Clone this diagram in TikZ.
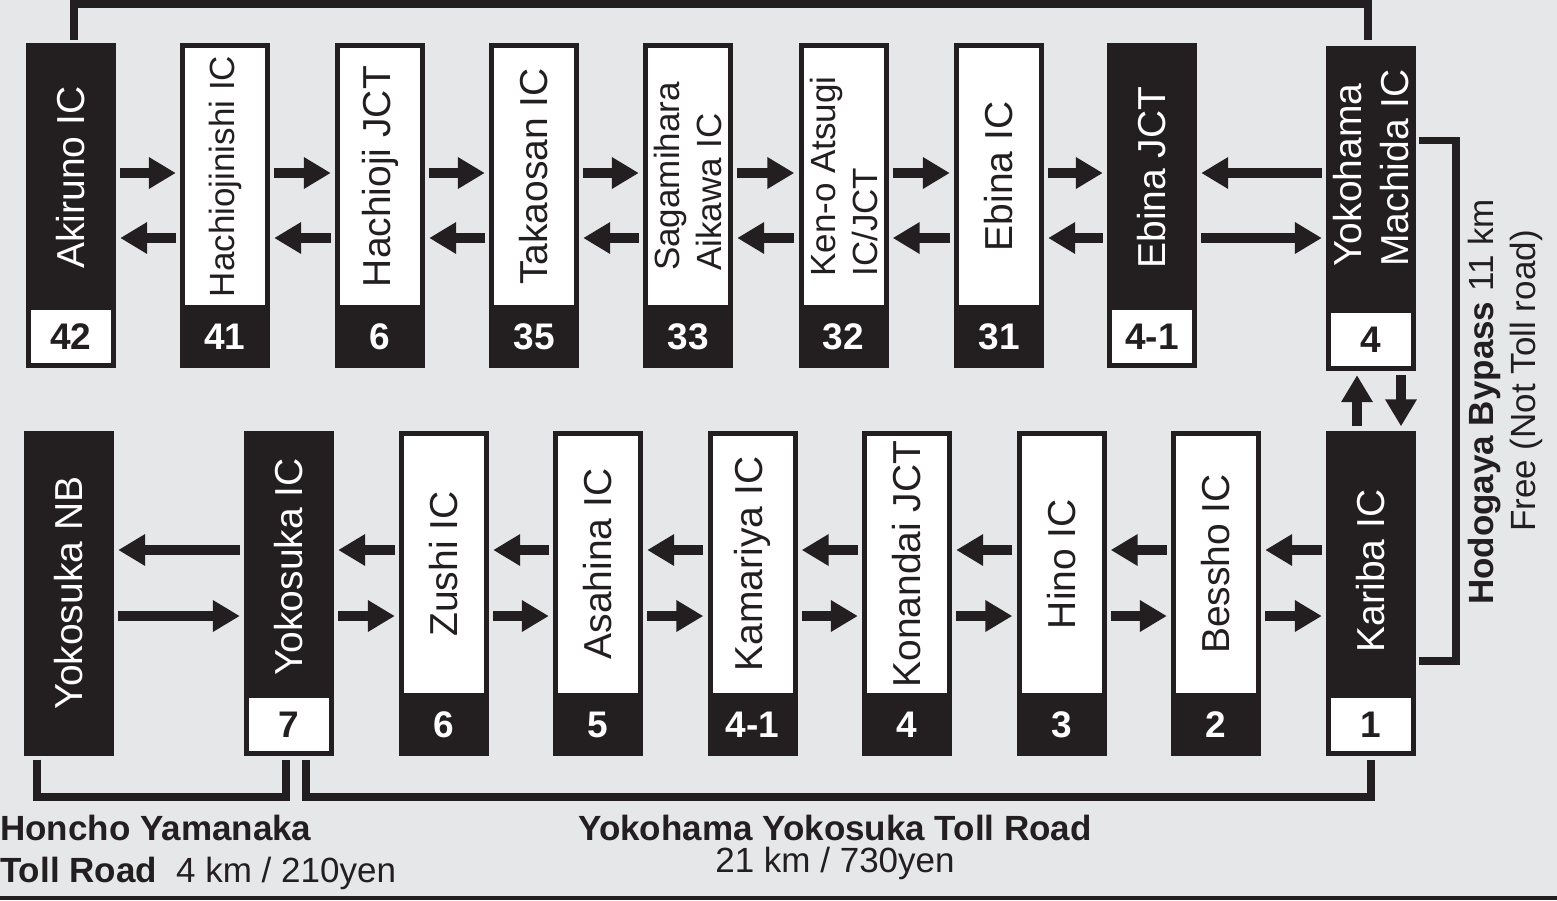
\documentclass[tikz,border=0pt]{standalone}
\usepackage{fontspec}
\setmainfont{Liberation Sans}
\usetikzlibrary{arrows.meta}
\definecolor{ink}{HTML}{231F20}
\definecolor{paper}{HTML}{E6E7E8}

\begin{document}
\begin{tikzpicture}[x=1pt,y=-1pt,
    icbox/.style={fill=ink,minimum width=90pt,minimum height=325pt,inner sep=0pt},
    panel/.style={fill=white,text=ink,rotate=90,minimum width=257pt,minimum height=80pt,inner sep=0pt,align=left,font=\fontsize{39}{47}\selectfont},
    darkname/.style={text=white,rotate=90,inner sep=0pt,align=left,font=\fontsize{39}{47}\selectfont},
    smalltext/.style={font=\fontsize{35}{42}\selectfont},
    numbox/.style={fill=white,text=ink,minimum width=80pt,minimum height=53pt,inner sep=0pt,font=\fontsize{37}{44}\selectfont\bfseries},
    numtext/.style={text=white,inner sep=0pt,font=\fontsize{37}{44}\selectfont\bfseries},
    caption/.style={text=ink,inner sep=0pt,font=\fontsize{35}{42}\selectfont},
    road/.style={draw=ink,line width=7.5pt},
    arr/.style={draw=ink,line width=10pt,-{Triangle[length=27pt,width=30pt]},shorten <=4pt,shorten >=4pt}]
  \fill[paper] (0,0) rectangle (1557,900);
  \fill[ink] (0,896) rectangle (1557,900);
  \path
    (71,205.5) node[icbox] (akiruno) {}
    (225,205.5) node[icbox] (hachiojinishi) {}
    (380,205.5) node[icbox] (hachioji) {}
    (534,205.5) node[icbox] (takaosan) {}
    (688,205.5) node[icbox] (sagamihara) {}
    (843.5,205.5) node[icbox] (kenoatsugi) {}
    (999,205.5) node[icbox] (ebina) {}
    (1152,205.5) node[icbox] (ebinajct) {}
    (1371,208.5) node[icbox] (machida) {}
    (69,593) node[icbox] (yokosukanb) {}
    (289,593) node[icbox] (yokosukaic) {}
    (444,593) node[icbox] (zushi) {}
    (598,593) node[icbox] (asahina) {}
    (752.5,593) node[icbox] (kamariya) {}
    (907,593) node[icbox] (konandai) {}
    (1061.5,593) node[icbox] (hino) {}
    (1216,593) node[icbox] (bessho) {}
    (1371,593) node[icbox] (kariba) {};
  \path
    (71,177.5) node[darkname] (akirunolbl) {Akiruno IC}
    (225,176.5) node[panel,smalltext] (hachiojinishilbl) {Hachiojinishi IC}
    (380,176.5) node[panel] (hachiojilbl) {Hachioji JCT}
    (534,176.5) node[panel] (takaosanlbl) {Takaosan IC}
    (688,176.5) node[panel,smalltext] (sagamiharalbl) {Sagamihara\\Aikawa IC}
    (843.5,176.5) node[panel,smalltext] (kenoatsugilbl) {Ken-o Atsugi\\IC/JCT}
    (999,176.5) node[panel] (ebinalbl) {Ebina IC}
    (1152,177.5) node[darkname] (ebinajctlbl) {Ebina JCT}
    (1371,168) node[darkname] (machidalbl) {Yokohama\\Machida IC}
    (69,593) node[darkname] (yokosukanblbl) {Yokosuka NB}
    (289,567) node[darkname] (yokosukaiclbl) {Yokosuka IC}
    (444,564) node[panel] (zushilbl) {Zushi IC}
    (598,564) node[panel] (asahinalbl) {Asahina IC}
    (752.5,564) node[panel] (kamariyalbl) {Kamariya IC}
    (907,564) node[panel] (konandailbl) {Konandai JCT}
    (1061.5,564) node[panel] (hinolbl) {Hino IC}
    (1216,564) node[panel] (besshollbl) {Bessho IC}
    (1371,571) node[darkname] (karibalbl) {Kariba IC};
  \path
    (71,336.5) node[numbox] (akirunonum) {42}
    (225,336.5) node[numtext] (hachiojinishinum) {41}
    (380,336.5) node[numtext] (hachiojinum) {6}
    (534,336.5) node[numtext] (takaosannum) {35}
    (688,336.5) node[numtext] (sagamiharanum) {33}
    (843.5,336.5) node[numtext] (kenoatsuginum) {32}
    (999,336.5) node[numtext] (ebinanum) {31}
    (1152,336.5) node[numbox] (ebinajctnum) {4-1}
    (1371,339.5) node[numbox] (machidanum) {4}
    (289,724.5) node[numbox] (yokosukaicnum) {7}
    (444,724.5) node[numtext] (zushinum) {6}
    (598,724.5) node[numtext] (asahinanum) {5}
    (752.5,724.5) node[numtext] (kamariyanum) {4-1}
    (907,724.5) node[numtext] (konandainum) {4}
    (1061.5,724.5) node[numtext] (hinonum) {3}
    (1216,724.5) node[numtext] (besshonum) {2}
    (1371,724.5) node[numbox] (karibanum) {1};
  \path
    (0,840) node[caption,anchor=base west] (honcho) {\bfseries Honcho Yamanaka}
    (0,882) node[caption,anchor=base west] (honchotoll) {\bfseries Toll Road}
    (176,882) node[caption,anchor=base west] (honchofare) {4 km / 210yen}
    (835,840) node[caption,anchor=base] (yyroad) {\bfseries Yokohama Yokosuka Toll Road}
    (835,872) node[caption,anchor=base] (yyfare) {21 km / 730yen}
    (1493,402) node[caption,anchor=base,rotate=90] (bypass) {\textbf{Hodogaya Bypass} 11 km}
    (1535,381) node[caption,anchor=base,rotate=90] (bypassnote) {Free (Not Toll road)};
  \begin{scope}[road]
    \draw ([xshift=3pt,yshift=3pt]akiruno.north) |- (700,4) -| ([xshift=-3pt,yshift=6pt]machida.north);
    \draw ([xshift=3pt,yshift=68pt]machida.east) -| (1456,400) |- ([xshift=3pt,yshift=-68pt]kariba.east);
    \draw ([xshift=-32pt,yshift=-4pt]yokosukanb.south) |- (160,797) -| ([xshift=-3pt,yshift=-4pt]yokosukaic.south);
    \draw ([xshift=17pt,yshift=-4pt]yokosukaic.south) |- (800,797) -| ([yshift=-4pt]kariba.south);
  \end{scope}
  \begin{scope}[arr]
    \draw ([yshift=32.5pt]akiruno.east) to ([yshift=32.5pt]hachiojinishi.west);
    \draw ([yshift=-32.5pt]hachiojinishi.west) to ([yshift=-32.5pt]akiruno.east);
    \draw ([yshift=32.5pt]hachiojinishi.east) to ([yshift=32.5pt]hachioji.west);
    \draw ([yshift=-32.5pt]hachioji.west) to ([yshift=-32.5pt]hachiojinishi.east);
    \draw ([yshift=32.5pt]hachioji.east) to ([yshift=32.5pt]takaosan.west);
    \draw ([yshift=-32.5pt]takaosan.west) to ([yshift=-32.5pt]hachioji.east);
    \draw ([yshift=32.5pt]takaosan.east) to ([yshift=32.5pt]sagamihara.west);
    \draw ([yshift=-32.5pt]sagamihara.west) to ([yshift=-32.5pt]takaosan.east);
    \draw ([yshift=32.5pt]sagamihara.east) to ([yshift=32.5pt]kenoatsugi.west);
    \draw ([yshift=-32.5pt]kenoatsugi.west) to ([yshift=-32.5pt]sagamihara.east);
    \draw ([yshift=32.5pt]kenoatsugi.east) to ([yshift=32.5pt]ebina.west);
    \draw ([yshift=-32.5pt]ebina.west) to ([yshift=-32.5pt]kenoatsugi.east);
    \draw ([yshift=32.5pt]ebina.east) to ([yshift=32.5pt]ebinajct.west);
    \draw ([yshift=-32.5pt]ebinajct.west) to ([yshift=-32.5pt]ebina.east);
    \draw ([yshift=35.5pt]machida.west) to ([yshift=32.5pt]ebinajct.east);
    \draw ([yshift=-32.5pt]ebinajct.east) to ([yshift=-29.5pt]machida.west);
    \draw ([xshift=-14pt]kariba.north) to ([xshift=-14pt]machida.south);
    \draw ([xshift=30pt]machida.south) to ([xshift=30pt]kariba.north);
    \draw ([yshift=43pt]yokosukaic.west) to ([yshift=43pt]yokosukanb.east);
    \draw ([yshift=-23pt]yokosukanb.east) to ([yshift=-23pt]yokosukaic.west);
    \draw ([yshift=43pt]zushi.west) to ([yshift=43pt]yokosukaic.east);
    \draw ([yshift=-23pt]yokosukaic.east) to ([yshift=-23pt]zushi.west);
    \draw ([yshift=43pt]asahina.west) to ([yshift=43pt]zushi.east);
    \draw ([yshift=-23pt]zushi.east) to ([yshift=-23pt]asahina.west);
    \draw ([yshift=43pt]kamariya.west) to ([yshift=43pt]asahina.east);
    \draw ([yshift=-23pt]asahina.east) to ([yshift=-23pt]kamariya.west);
    \draw ([yshift=43pt]konandai.west) to ([yshift=43pt]kamariya.east);
    \draw ([yshift=-23pt]kamariya.east) to ([yshift=-23pt]konandai.west);
    \draw ([yshift=43pt]hino.west) to ([yshift=43pt]konandai.east);
    \draw ([yshift=-23pt]konandai.east) to ([yshift=-23pt]hino.west);
    \draw ([yshift=43pt]bessho.west) to ([yshift=43pt]hino.east);
    \draw ([yshift=-23pt]hino.east) to ([yshift=-23pt]bessho.west);
    \draw ([yshift=43pt]kariba.west) to ([yshift=43pt]bessho.east);
    \draw ([yshift=-23pt]bessho.east) to ([yshift=-23pt]kariba.west);
  \end{scope}
\end{tikzpicture}
\end{document}
